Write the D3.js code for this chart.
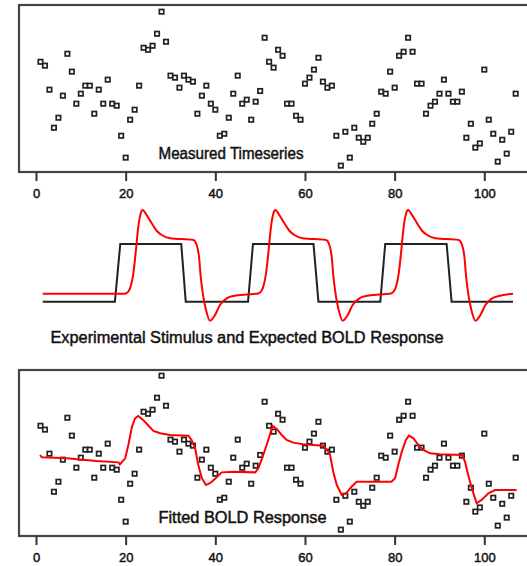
<!DOCTYPE html>
<html>
<head>
<meta charset="utf-8">
<script src="https://cdn.jsdelivr.net/npm/d3@7"></script>
<style>
  body { margin: 0; background: #fff; }
  text { font-family: "Liberation Sans", "DejaVu Sans", sans-serif; fill: #111; }
</style>
</head>
<body>
<div id="chart"></div>
<script>
/* axis ticks (time, in scans) */
const tickValues = [0, 20, 40, 60, 80, 100];

/* measured signal, one value per scan (scan 1 .. 107), arbitrary units 0-100 */
const measured = [
  66.0, 63.7, 49.3, 26.5, 32.5, 45.7, 70.8, 60.1, 40.9, 46.9,
  51.7, 51.7, 34.9, 49.3, 40.9, 55.3, 40.9, 39.7, 21.7, 8.6,
  31.3, 37.3, 51.7, 74.4, 73.2, 75.6, 82.8, 96.0, 78.0, 57.7,
  56.5, 50.5, 57.7, 55.3, 54.1, 34.9, 45.7, 51.7, 40.9, 37.3,
  21.7, 22.9, 32.5, 46.9, 57.7, 40.9, 43.3, 31.3, 42.1, 48.5,
  80.4, 66.0, 62.5, 73.2, 69.6, 40.9, 40.9, 33.7, 31.3, 52.9,
  56.5, 61.3, 68.4, 54.1, 50.5, 51.7, 21.7, 3.8, 24.1, 8.6,
  26.5, 20.5, 18.1, 20.5, 28.9, 34.9, 48.1, 46.9, 60.1, 50.5,
  69.6, 72.0, 80.4, 72.0, 52.9, 52.9, 34.9, 39.7, 42.1, 46.9,
  55.3, 46.9, 42.1, 42.1, 48.1, 20.5, 28.9, 14.6, 17.1, 61.3,
  31.3, 22.9, 6.2, 19.3, 11.0, 24.1, 46.9
];

/* experimental stimulus (off = 0, on = 1) */
const stimT = [1.5, 17.6, 18.8, 32.4, 33.4, 47.3, 48.4, 61.9, 63.0, 76.8, 77.9, 91.6, 92.7, 106.4];
const stimV = [0,   0,    1,    1,    0,    0,    1,    1,    0,    0,    1,    1,    0,    0];

/* expected BOLD response, same units as the stimulus */
const boldT = [
  1.5, 19.5, 20.2, 20.97, 21.71, 22.3, 22.82, 23.35, 23.8, 24.69, 25.8, 26.92, 28.04, 29.89,
  35.09, 35.85, 36.36, 36.74, 37.32, 37.92, 38.81, 39.93, 41.04, 42.54, 44.02, 47.0,
  49.1, 49.8, 50.57, 51.31, 51.9, 52.42, 52.95, 53.4, 54.29, 55.4, 56.52, 57.64, 59.49,
  64.69, 65.45, 65.96, 66.34, 66.92, 67.52, 68.41, 69.53, 70.64, 72.14, 73.62, 76.6,
  78.7, 79.4, 80.17, 80.91, 81.5, 82.02, 82.55, 83.0, 83.89, 85.0, 86.12, 87.24, 89.09,
  94.29, 95.05, 95.56, 95.94, 96.52, 97.12, 98.01, 99.13, 100.24, 101.74, 103.22, 106.4
];
const boldV = [
  0.137, 0.137, 0.15, 0.23, 0.49, 0.9, 1.3, 1.53, 1.59, 1.5, 1.36, 1.23, 1.156, 1.1,
  1.069, 0.983, 0.78, 0.433, 0.087, -0.144, -0.329, -0.23, -0.057, 0.059, 0.098, 0.126,
  0.137, 0.15, 0.23, 0.49, 0.9, 1.3, 1.53, 1.59, 1.5, 1.36, 1.23, 1.156, 1.1,
  1.069, 0.983, 0.78, 0.433, 0.087, -0.144, -0.329, -0.23, -0.057, 0.059, 0.098, 0.126,
  0.137, 0.15, 0.23, 0.49, 0.9, 1.3, 1.53, 1.59, 1.5, 1.36, 1.23, 1.156, 1.1,
  1.069, 0.983, 0.78, 0.433, 0.087, -0.144, -0.329, -0.23, -0.057, 0.059, 0.098, 0.137
];

/* fitted BOLD response, same units as the measured signal */
const fitT = [
  0.9, 1.3, 6.9, 13.5, 18.4, 18.7, 19.9, 20.6, 21.4, 22.1, 22.8, 23.9, 25.1, 26.2, 27.7, 29.9,
  34.0, 34.7, 35.5, 36.2, 37.0, 37.9, 38.8, 39.9, 41.4, 44.0, 48.9, 49.6, 50.7, 51.8, 52.8,
  53.7, 54.8, 55.9, 57.4, 59.6, 64.1, 64.9, 65.6, 66.3, 67.1, 68.2, 69.2, 70.4, 71.5, 79.3,
  80.1, 80.8, 81.6, 82.5, 83.2, 84.2, 85.3, 86.4, 87.9, 90.1, 95.0, 95.7, 96.4, 97.2, 98.3,
  99.4, 100.9, 102.4, 107.2
];
const fitV = [
  48.5, 47.1, 46.5, 44.9, 44.1, 42.9, 46.5, 54.5, 65.4, 70.5, 71.9, 69.5, 66.0, 62.9, 61.5, 60.5,
  60.1, 57.5, 52.5, 42.5, 34.6, 30.5, 31.6, 34.1, 38.1, 38.5, 38.1, 40.5, 48.5, 57.5, 65.9,
  64.1, 60.5, 57.5, 55.9, 54.9, 54.1, 51.5, 48.5, 38.5, 30.5, 24.6, 25.6, 29.5, 32.5, 32.5,
  34.6, 42.5, 50.5, 57.5, 60.1, 58.5, 54.5, 51.5, 49.5, 48.9, 48.5, 44.5, 36.5, 28.6, 19.6,
  21.6, 25.6, 27.5, 27.5
];

const width = 527;
const height = 566;

const svg = d3.create("svg")
    .attr("width", width)
    .attr("height", height)
    .attr("viewBox", [0, 0, width, height]);

/* common time scale */
const x = d3.scaleLinear().domain([0, 100]).range([36, 484.3]);

/* one scale per panel */
const yTop = d3.scaleLinear().domain([0, 100]).range([172, 5]);
const yMid = d3.scaleLinear().domain([0, 1]).range([301.7, 244]);
const yBot = d3.scaleLinear().domain([0, 100]).range([536, 369]);

const scans = measured.map((v, i) => ({t: i + 1, v}));

/* a heavier regular face, closer to the pixel font of the original */
function label(sel, size) {
  sel.attr("font-size", size)
      .attr("font-family", "Liberation Sans, sans-serif")
      .attr("fill", "#111")
      .attr("stroke", "#111")
      .attr("stroke-width", 0.45);
}

/* frame + axis of a scatter panel */
function panel(y, frameTop, title, titleX, titleY, titleW) {
  const g = svg.append("g");
  g.append("rect")
      .attr("x", 19)
      .attr("y", frameTop)
      .attr("width", 540)
      .attr("height", y(0) - frameTop)
      .attr("fill", "none")
      .attr("stroke", "#444")
      .attr("stroke-width", 2.2);

  const axis = g.append("g")
      .attr("transform", `translate(0,${y(0)})`)
      .call(d3.axisBottom(x).tickValues(tickValues).tickSize(9).tickPadding(8));
  axis.select(".domain").remove();
  axis.selectAll(".tick line").attr("stroke", "#333").attr("stroke-width", 2);
  axis.selectAll(".tick text").call(label, 13);

  g.append("text")
      .attr("x", titleX)
      .attr("y", titleY)
      .attr("textLength", titleW)
      .attr("lengthAdjust", "spacingAndGlyphs")
      .call(label, 16)
      .text(title);
  return g;
}

function points(g, y) {
  g.append("g")
    .selectAll()
    .data(scans)
    .join("rect")
      .attr("x", d => x(d.t) - 2.2)
      .attr("y", d => y(d.v) - 2.2)
      .attr("width", 4.4)
      .attr("height", 4.4)
      .attr("fill", "#fff")
      .attr("stroke", "#222")
      .attr("stroke-width", 1.7);
}

/* top: measured timeseries */
const topPanel = panel(yTop, 5, "Measured Timeseries", 158.5, 159, 145);
points(topPanel, yTop);

/* middle: stimulus and expected BOLD */
const stim = stimT.map((t, i) => ({t, v: stimV[i]}));
const bold = boldT.map((t, i) => ({t, v: boldV[i]}));

svg.append("path")
    .datum(stim)
    .attr("fill", "none")
    .attr("stroke", "#222")
    .attr("stroke-width", 2)
    .attr("d", d3.line().x(d => x(d.t)).y(d => yMid(d.v)));

svg.append("path")
    .datum(bold)
    .attr("fill", "none")
    .attr("stroke", "#f00")
    .attr("stroke-width", 2)
    .attr("d", d3.line().x(d => x(d.t)).y(d => yMid(d.v)).curve(d3.curveMonotoneX));

svg.append("text")
    .attr("x", 50.5)
    .attr("y", 342.5)
    .attr("textLength", 393)
    .attr("lengthAdjust", "spacingAndGlyphs")
    .call(label, 16)
    .text("Experimental Stimulus and Expected BOLD Response");

/* bottom: fitted BOLD response over the measured data */
const bottomPanel = panel(yBot, 370, "Fitted BOLD Response", 158.5, 522.5, 168);
points(bottomPanel, yBot);

const fit = fitT.map((t, i) => ({t, v: fitV[i]}));
bottomPanel.append("path")
    .datum(fit)
    .attr("fill", "none")
    .attr("stroke", "#f00")
    .attr("stroke-width", 2)
    .attr("d", d3.line().x(d => x(d.t)).y(d => yBot(d.v)));

d3.select("#chart").node().append(svg.node());
</script>
</body>
</html>
